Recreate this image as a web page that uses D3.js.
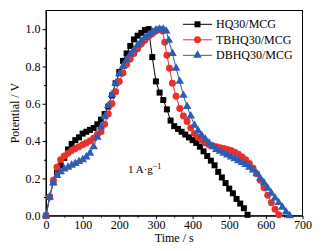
<!DOCTYPE html>
<html>
<head>
<meta charset="utf-8">
<script src="https://cdn.jsdelivr.net/npm/d3@7"></script>
<style>
  body { margin: 0; background: #ffffff; }
  svg { display: block; font-family: "Liberation Serif", "Times New Roman", serif; }
</style>
</head>
<body>
<script>
// Charge/discharge curves at 1 A/g
const seriesNames = ["HQ30/MCG", "TBHQ30/MCG", "DBHQ30/MCG"];
const seriesColors = ["#000000", "#e8302c", "#2c5db4"];

const hqTime = [0,10,20,30,40,50,60,70,80,90,100,110,120,130,140,150,160,170,180,190,200,210,220,230,240,250,260,270,280,
  290,300,310,320,330,340,350,360,370,380,390,400,410,420,430,440,450,460,470,480,490,500,510,520,530,540,550];
const hqValue = [0,0.10,0.18,0.23,0.27,0.31,0.355,0.385,0.405,0.42,0.44,0.45,0.46,0.47,0.49,0.515,0.545,0.585,0.645,0.71,0.77,0.83,0.87,0.91,0.945,0.965,0.98,0.995,1.0,
  0.85,0.72,0.66,0.62,0.57,0.51,0.48,0.465,0.45,0.435,0.42,0.405,0.39,0.37,0.345,0.32,0.295,0.27,0.235,0.205,0.175,0.145,0.12,0.09,0.065,0.04,0.005];

const tbTime = [0,10,20,30,40,50,60,70,80,90,100,110,120,130,140,150,160,170,180,190,200,210,220,230,240,250,260,270,280,290,300,310,318,
  324,330,337,345,355,365,375,385,395,405,415,425,435,445,455,465,475,485,495,505,515,525,535,545,555,565,575,585,595,605,615,625,635];
const tbValue = [0,0.10,0.19,0.26,0.30,0.32,0.335,0.35,0.36,0.37,0.38,0.39,0.40,0.415,0.435,0.45,0.49,0.545,0.60,0.665,0.72,0.765,0.81,0.84,0.87,0.895,0.92,0.94,0.96,0.975,0.99,1.0,0.99,
  0.93,0.86,0.79,0.71,0.64,0.575,0.535,0.505,0.47,0.44,0.42,0.405,0.39,0.38,0.375,0.37,0.365,0.36,0.355,0.35,0.34,0.33,0.315,0.30,0.28,0.255,0.225,0.19,0.15,0.11,0.07,0.035,0.005];

const dbTime = [0,10,20,30,40,50,60,70,80,90,100,110,120,130,140,150,160,170,180,190,200,210,220,230,240,250,260,270,280,290,300,310,320,
  328,335,345,355,365,375,385,395,405,415,425,435,445,455,465,475,485,495,505,515,525,535,545,555,565,575,585,595,605,615,625,635,645,655,665];
const dbValue = [0,0.10,0.175,0.215,0.235,0.25,0.26,0.27,0.28,0.29,0.30,0.315,0.335,0.37,0.42,0.475,0.53,0.59,0.65,0.71,0.76,0.80,0.835,0.865,0.89,0.915,0.935,0.955,0.97,0.985,0.995,1.0,1.0,
  0.99,0.94,0.87,0.79,0.72,0.645,0.585,0.535,0.485,0.455,0.43,0.41,0.39,0.37,0.355,0.345,0.335,0.325,0.315,0.305,0.295,0.285,0.275,0.26,0.245,0.225,0.20,0.175,0.147,0.12,0.095,0.07,0.045,0.02,0.0];

const xTicks = [0,100,200,300,400,500,600,700];
const yTicks = [0.0,0.2,0.4,0.6,0.8,1.0];

(function() {
  const W = 330, H = 251;
  const margin = {top: 10.5, right: 27.5, bottom: 35.3, left: 46};
  const width = W - margin.left - margin.right,
        height = H - margin.top - margin.bottom;

  const svg = d3.select("body").append("svg")
      .attr("width", W)
      .attr("height", H);

  const g = svg.append("g")
      .attr("transform", "translate(" + margin.left + "," + margin.top + ")");

  const x = d3.scaleLinear().domain([0, 700]).range([0, width]);
  const y = d3.scaleLinear().domain([0, 1.1]).range([height, 0]);

  // minor ticks
  g.append("g")
      .attr("transform", "translate(0," + height + ")")
      .call(d3.axisBottom(x).tickValues(d3.range(50, 700, 100)).tickSize(2).tickFormat(""))
      .call(a => a.select(".domain").remove());
  g.append("g")
      .call(d3.axisLeft(y).tickValues(d3.range(0.1, 1.1, 0.2)).tickSize(2).tickFormat(""))
      .call(a => a.select(".domain").remove());

  // major axes
  const xAxis = g.append("g")
      .attr("transform", "translate(0," + height + ")")
      .call(d3.axisBottom(x).tickValues(xTicks).tickSize(3.5).tickPadding(1).tickSizeOuter(0));
  const yAxis = g.append("g")
      .call(d3.axisLeft(y).tickValues(yTicks).tickSize(3.5).tickPadding(2).tickFormat(d3.format(".1f")).tickSizeOuter(0));

  [xAxis, yAxis].forEach(a => {
    a.selectAll("text").attr("font-size", 12).attr("fill", "#000")
      .attr("font-family", "Liberation Serif, serif");
    a.selectAll("line").attr("stroke", "#000");
    a.select(".domain").attr("stroke", "#000");
  });

  // frame
  g.append("rect")
      .attr("width", width)
      .attr("height", height)
      .attr("fill", "none")
      .attr("stroke", "#000")
      .attr("stroke-width", 1);

  const series = [
    {name: seriesNames[0], color: seriesColors[0], shape: d3.symbolSquare, size: 36, t: hqTime, v: hqValue},
    {name: seriesNames[1], color: seriesColors[1], shape: d3.symbolCircle, size: 38, t: tbTime, v: tbValue},
    {name: seriesNames[2], color: seriesColors[2], shape: d3.symbolTriangle, size: 32, t: dbTime, v: dbValue}
  ];

  const line = d3.line().x(d => x(d[0])).y(d => y(d[1]));

  series.forEach(s => {
    const pts = s.t.map((t, i) => [t, s.v[i]]);
    g.append("path")
        .datum(pts)
        .attr("fill", "none")
        .attr("stroke", s.color)
        .attr("stroke-width", 1)
        .attr("d", line);
    g.selectAll(null)
        .data(pts)
        .enter().append("path")
        .attr("transform", d => "translate(" + x(d[0]) + "," + y(d[1]) + ")")
        .attr("d", d3.symbol().type(s.shape).size(s.size))
        .attr("fill", s.color);
  });

  // legend
  const legend = svg.append("g").attr("transform", "translate(183,24.3)");
  series.forEach((s, i) => {
    const row = legend.append("g").attr("transform", "translate(0," + (i * 15.5) + ")");
    row.append("line")
        .attr("x1", 0).attr("x2", 29)
        .attr("stroke", s.color).attr("stroke-width", 1);
    row.append("path")
        .attr("transform", "translate(14.5,0)")
        .attr("d", d3.symbol().type(s.shape).size(s.size))
        .attr("fill", s.color);
    row.append("text")
        .attr("x", 33)
        .attr("y", 4)
        .attr("font-size", 12)
        .text(s.name);
  });

  // annotation
  const ann = svg.append("text")
      .attr("x", 128)
      .attr("y", 173)
      .attr("font-size", 11);
  ann.append("tspan").text("1 A·g");
  ann.append("tspan").attr("dy", -4).attr("font-size", 8).text("−1");

  // axis titles
  svg.append("text")
      .attr("x", margin.left + width / 2)
      .attr("y", 242)
      .attr("text-anchor", "middle")
      .attr("font-size", 12)
      .text("Time / s");

  svg.append("text")
      .attr("transform", "translate(19," + (margin.top + height / 2) + ") rotate(-90)")
      .attr("text-anchor", "middle")
      .attr("font-size", 12)
      .text("Potential / V");
})();
</script>
</body>
</html>
